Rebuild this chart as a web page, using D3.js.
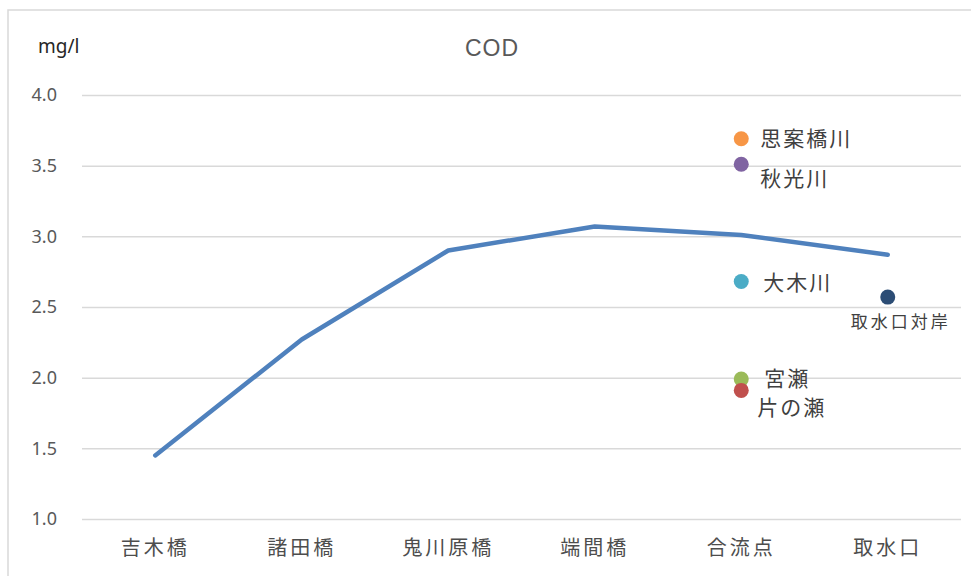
<!DOCTYPE html>
<html><head><meta charset="utf-8">
<script src="https://cdn.jsdelivr.net/npm/d3@7"></script>
<style>
html,body{margin:0;padding:0;background:#fff;}
svg{display:block;}
text{font-family:"Noto Sans CJK JP","Noto Sans",sans-serif;}
</style></head>
<body><svg id="chart" width="971" height="576"></svg>
<script>
// ---- data ----
const categories = ["吉木橋","諸田橋","鬼川原橋","端間橋","合流点","取水口"];
const codValues = [1.45, 2.27, 2.90, 3.07, 3.01, 2.87];
const pointNames = ["思案橋川","秋光川","大木川","宮瀬","片の瀬","取水口対岸"];
const pointCategories = ["合流点","合流点","合流点","合流点","合流点","取水口"];
const pointValues = [3.69, 3.51, 2.68, 1.99, 1.91, 2.57];
const yTicks = [1.0, 1.5, 2.0, 2.5, 3.0, 3.5, 4.0];
const title = "COD";
const unitLabel = "mg/l";

// ---- styles (separate from data) ----
const pointColors = ["#F79646","#8064A2","#4BACC6","#9BBB59","#C0504D","#2C4D75"];
const labelStyle = [
  {dx:19, dy:0,  anchor:"start",  size:21, ls:2},
  {dx:19, dy:14, anchor:"start",  size:21, ls:2},
  {dx:22, dy:1,  anchor:"start",  size:21, ls:2},
  {dx:23, dy:-1, anchor:"start",  size:21, ls:2},
  {dx:16, dy:17, anchor:"start",  size:21, ls:2},
  {dx:13, dy:25, anchor:"middle", size:17, ls:3}
];

const svg = d3.select("#chart");
const W = 971, H = 576;

// chart border
svg.append("path")
  .attr("d", `M8,${H+2} L8,10 L${W+2},10`)
  .attr("fill","none").attr("stroke","#d9d9d9").attr("stroke-width",1.5);

const x = d3.scaleBand().domain(categories).range([82, 961]);
const y = d3.scaleLinear().domain([1.0, 4.0]).range([519, 95]);

// gridlines
const gridAxis = d3.axisLeft(y).tickValues(yTicks).tickSize(-(961-82)).tickFormat("");
const g = svg.append("g").attr("transform","translate(82,0)").call(gridAxis);
g.select(".domain").remove();
g.selectAll(".tick line").attr("stroke","#d9d9d9").attr("stroke-width",1.5);

// y tick labels
const yAxis = d3.axisLeft(y).tickValues(yTicks).tickSize(0).tickPadding(0).tickFormat(d3.format(".1f"));
const ya = svg.append("g").attr("transform","translate(57,0)").call(yAxis);
ya.select(".domain").remove();
ya.selectAll("text").attr("fill","#595959").style("font-size","18px")
  .style("font-family","'Noto Sans',sans-serif");

// x axis labels
const xAxis = d3.axisBottom(x).tickSize(0).tickPadding(0);
const xa = svg.append("g").attr("transform","translate(0,540)").call(xAxis);
xa.select(".domain").remove();
xa.selectAll("text").attr("fill","#4d4d4d").style("font-size","20px")
  .style("letter-spacing","3px").attr("dy","0.75em")
  .style("font-family","'Noto Sans CJK JP',sans-serif");

// title & unit
svg.append("text").attr("x",492).attr("y",56).attr("text-anchor","middle")
  .attr("fill","#595959").style("font-size","23px").style("letter-spacing","1px")
  .style("font-family","'Liberation Sans',Arial,sans-serif").text(title);
svg.append("text").attr("x",38).attr("y",53)
  .attr("fill","#262626").style("font-size","19px")
  .style("font-family","'Noto Sans',sans-serif").text(unitLabel);

// line
const line = d3.line().x((d,i)=>x(categories[i])+x.bandwidth()/2).y(d=>y(d));
svg.append("path").datum(codValues).attr("d",line)
  .attr("fill","none").attr("stroke","#4F81BD").attr("stroke-width",4.5)
  .attr("stroke-linejoin","round").attr("stroke-linecap","round");

// points
pointValues.forEach((v,i)=>{
  const cx = x(pointCategories[i])+x.bandwidth()/2, cy = y(v);
  svg.append("circle").attr("cx",cx).attr("cy",cy).attr("r",7.5).attr("fill",pointColors[i]);
  const s = labelStyle[i];
  svg.append("text").attr("x",cx+s.dx).attr("y",cy+s.dy).attr("dy","0.36em")
    .attr("text-anchor",s.anchor).attr("fill","#404040")
    .style("font-size",s.size+"px").style("letter-spacing",s.ls+"px")
    .text(pointNames[i]);
});
</script></body></html>
